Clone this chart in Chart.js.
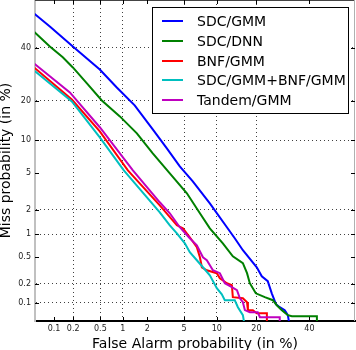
<!DOCTYPE html>
<html><head><meta charset="utf-8">
<script src="https://cdn.jsdelivr.net/npm/chart.js@4.4.1/dist/chart.umd.min.js"></script>
<style>html,body{margin:0;padding:0;background:#fff;}canvas{display:block;}</style>
</head><body>
<canvas id="c" width="356" height="350"></canvas>
<script>
// ---- data (percent) ----
const SERIES_NAMES = ['SDC/GMM', 'SDC/DNN', 'BNF/GMM', 'SDC/GMM+BNF/GMM', 'Tandem/GMM'];
const SERIES_COLORS = ['#0000ff', '#008000', '#ff0000', '#00bfbf', '#bf00bf'];

const sdcGmmFA   = [0.044,0.0853,0.198,0.491,0.835,1.41,2.31,3.31,4.52,6.07,8.70,12.1,13.95,16.05,20.1,21.7,23.7,25.1,26.6,28.0,29.9,31.1,31.9];
const sdcGmmMiss = [55.6,49.4,40.6,31.1,24.4,18.6,12.3,8.53,5.82,4.12,2.37,1.23,0.889,0.615,0.354,0.261,0.220,0.143,0.0955,0.0853,0.0763,0.0628,0.04];

const sdcDnnFA   = [0.044,0.0853,0.138,0.198,0.331,0.524,0.916,1.50,2.31,3.56,5.32,7.08,8.70,11.22,13.48,16.05,17.2,18.0,19.8,22.7,25.5,26.9,28.8,31.1,32.7,43.25,43.25];
const sdcDnnMiss = [47.6,40.6,36.0,31.9,25.5,20.1,15.5,11.43,7.69,4.97,3.07,1.82,1.19,0.763,0.508,0.405,0.290,0.205,0.143,0.124,0.111,0.092,0.0763,0.0628,0.0604,0.0604,0.04];

const bnfGmmFA   = [0.044,0.191,0.491,1.16,2.77,4.22,4.86,5.68,6.63,7.08,7.38,8.18,9.99,10.6,12.1,13.25,13.48,16.05,17.2,17.45,18.9,20.1,23.4,23.4];
const bnfGmmMiss = [32.3,20.4,11.86,5.32,2.25,1.30,1.19,0.916,0.675,0.491,0.354,0.320,0.290,0.244,0.205,0.191,0.124,0.119,0.103,0.0763,0.0763,0.0678,0.0678,0.04];

const fusionFA   = [0.044,0.191,0.491,1.03,2.77,3.56,4.22,5.08,5.68,6.63,7.55,8.70,9.99,11.0,11.64,13.95,14.74,16.05,16.6];
const fusionMiss = [31.1,19.8,10.6,5.32,1.87,1.30,1.03,0.763,0.577,0.446,0.354,0.270,0.172,0.138,0.111,0.111,0.0853,0.0628,0.04];

const tandemFA   = [0.044,0.178,0.491,1.34,2.77,3.56,4.52,5.68,6.63,7.55,8.18,9.25,10.6,11.64,13.25,14.5,15.25,16.05,16.6,18.0,20.4,21.1,28.0,28.0];
const tandemMiss = [33.9,22.7,12.8,5.32,2.44,1.82,1.23,0.889,0.718,0.491,0.446,0.320,0.290,0.205,0.178,0.160,0.119,0.103,0.0763,0.0705,0.0705,0.058,0.058,0.04];

const TICK_VALUES = [0.1, 0.2, 0.5, 1, 2, 5, 10, 20, 40];
const TICK_LABELS = ['0.1', '0.2', '0.5', '1', '2', '5', '10', '20', '40'];
const X_GRID = ['0.2', '0.5', '1', '5', '10', '20'];
const Y_GRID = ['0.1', '0.2', '1', '2', '10', '20', '40'];
const X_RANGE = [0.048, 60];
const Y_RANGE = [0.05, 61];

// ---- normal deviate (probit) transform ----
function probit(p){
  const a=[-3.969683028665376e+01,2.209460984245205e+02,-2.759285104469687e+02,1.383577518672690e+02,-3.066479806614716e+01,2.506628277459239e+00];
  const b=[-5.447609879822406e+01,1.615858368580409e+02,-1.556989798598866e+02,6.680131188771972e+01,-1.328068155288572e+01];
  const c=[-7.784894002430293e-03,-3.223964580411365e-01,-2.400758277161838e+00,-2.549732539343734e+00,4.374664141464968e+00,2.938163982698783e+00];
  const d=[7.784695709041462e-03,3.224671290700398e-01,2.445134137142996e+00,3.754408661907416e+00];
  const pl=0.02425, ph=1-pl; let q,r;
  if(p<pl){q=Math.sqrt(-2*Math.log(p));return (((((c[0]*q+c[1])*q+c[2])*q+c[3])*q+c[4])*q+c[5])/((((d[0]*q+d[1])*q+d[2])*q+d[3])*q+1);}
  if(p<=ph){q=p-0.5;r=q*q;return (((((a[0]*r+a[1])*r+a[2])*r+a[3])*r+a[4])*r+a[5])*q/(((((b[0]*r+b[1])*r+b[2])*r+b[3])*r+b[4])*r+1);}
  q=Math.sqrt(-2*Math.log(1-p));return -(((((c[0]*q+c[1])*q+c[2])*q+c[3])*q+c[4])*q+c[5])/((((d[0]*q+d[1])*q+d[2])*q+d[3])*q+1);
}
const pz = pct => probit(pct / 100);

const SERIES = [[sdcGmmFA, sdcGmmMiss],[sdcDnnFA, sdcDnnMiss],[bnfGmmFA, bnfGmmMiss],[fusionFA, fusionMiss],[tandemFA, tandemMiss]];
const datasets = SERIES.map(([fa, miss], i) => ({
  label: SERIES_NAMES[i],
  data: fa.map((f, k) => ({x: pz(f), y: pz(miss[k])})),
  borderColor: SERIES_COLORS[i],
  backgroundColor: SERIES_COLORS[i],
  borderWidth: 2,
  pointRadius: 0,
  tension: 0,
  fill: false,
  order: SERIES.length - 1 - i
}));

Chart.defaults.font.family = "'DejaVu Sans', sans-serif";
Chart.defaults.color = '#000';

const framePlugin = {
  id: 'frame',
  afterDraw(chart){
    const {ctx, chartArea: a, scales: {x, y}} = chart;
    ctx.save();
    ctx.lineWidth = 1;
    ctx.strokeStyle = '#444';
    ctx.beginPath(); ctx.moveTo(a.left, a.top + 0.5); ctx.lineTo(a.right, a.top + 0.5); ctx.stroke();
    ctx.strokeStyle = '#b0b0b0';
    ctx.beginPath(); ctx.moveTo(a.right - 0.5, a.top); ctx.lineTo(a.right - 0.5, a.bottom); ctx.stroke();
    ctx.strokeStyle = '#000';
    ctx.beginPath();
    x.ticks.forEach(t => {
      const px = Math.round(x.getPixelForValue(t.value)) + 0.5;
      ctx.moveTo(px, a.bottom); ctx.lineTo(px, a.bottom - 4);
      ctx.moveTo(px, a.top); ctx.lineTo(px, a.top + 4);
    });
    y.ticks.forEach(t => {
      const py = Math.round(y.getPixelForValue(t.value)) + 0.5;
      ctx.moveTo(a.left, py); ctx.lineTo(a.left + 4, py);
      ctx.moveTo(a.right, py); ctx.lineTo(a.right - 4, py);
    });
    ctx.stroke();
    const L = {x: 152.5, y: 7.5, w: 196, h: 106, l0: 162, l1: 183, tx: 197, r0: 21, dr: 19.75};
    ctx.fillStyle = '#fff';
    ctx.fillRect(L.x, L.y, L.w, L.h);
    ctx.strokeStyle = '#000'; ctx.lineWidth = 1;
    ctx.strokeRect(L.x, L.y, L.w, L.h);
    ctx.font = "14px 'DejaVu Sans'";
    ctx.textBaseline = 'alphabetic';
    ctx.textAlign = 'left';
    chart.data.datasets.forEach((ds, i) => {
      const ry = Math.round(L.r0 + i * L.dr);
      ctx.strokeStyle = ds.borderColor; ctx.lineWidth = 2;
      ctx.beginPath(); ctx.moveTo(L.l0, ry); ctx.lineTo(L.l1, ry); ctx.stroke();
      ctx.fillStyle = '#000';
      ctx.fillText(ds.label, L.tx, ry + 5);
    });
    ctx.restore();
  }
};

new Chart(document.getElementById('c'), {
  type: 'line',
  data: {datasets},
  options: {
    responsive: false,
    animation: false,
    devicePixelRatio: 1,
    layout: {padding: {left: 0, right: 1, top: 0, bottom: 0}},
    plugins: {legend: {display: false}, tooltip: {enabled: false}},
    scales: {
      x: {
        type: 'linear',
        min: pz(X_RANGE[0]), max: pz(X_RANGE[1]),
        afterBuildTicks: s => { s.ticks = TICK_VALUES.map(v => ({value: pz(v)})); },
        afterFit: s => { s.height = 29; s.paddingLeft = 0; s.paddingRight = 0; },
        ticks: {callback: (v, i) => TICK_LABELS[i], autoSkip: false, maxRotation: 0, padding: 3, font: {size: 8}, color: '#222'},
        grid: {drawTicks: false, lineWidth: 1, color: c => X_GRID.includes(TICK_LABELS[c.index]) ? 'rgba(0,0,0,0.75)' : 'rgba(0,0,0,0)'},
        border: {color: '#000', width: 2, dash: [1, 3]},
        title: {display: true, text: 'False Alarm probability (in %)', font: {size: 14, lineHeight: 12/14}, padding: 0, color: '#000'}
      },
      y: {
        type: 'linear',
        min: pz(Y_RANGE[0]), max: pz(Y_RANGE[1]),
        afterBuildTicks: s => { s.ticks = TICK_VALUES.map(v => ({value: pz(v)})); },
        afterFit: s => { s.width = 35; s.paddingTop = 0; s.paddingBottom = 0; },
        ticks: {callback: (v, i) => TICK_LABELS[i], autoSkip: false, padding: 4, font: {size: 8}, color: '#222'},
        grid: {drawTicks: false, lineWidth: 1, color: c => Y_GRID.includes(TICK_LABELS[c.index]) ? 'rgba(0,0,0,0.75)' : 'rgba(0,0,0,0)'},
        border: {color: '#c0c0c0', width: 2, dash: [1, 3]},
        title: {display: true, text: 'Miss probability (in %)', font: {size: 14, lineHeight: 12/14}, padding: 0, color: '#000'}
      }
    }
  },
  plugins: [framePlugin]
});
</script>
</body></html>
